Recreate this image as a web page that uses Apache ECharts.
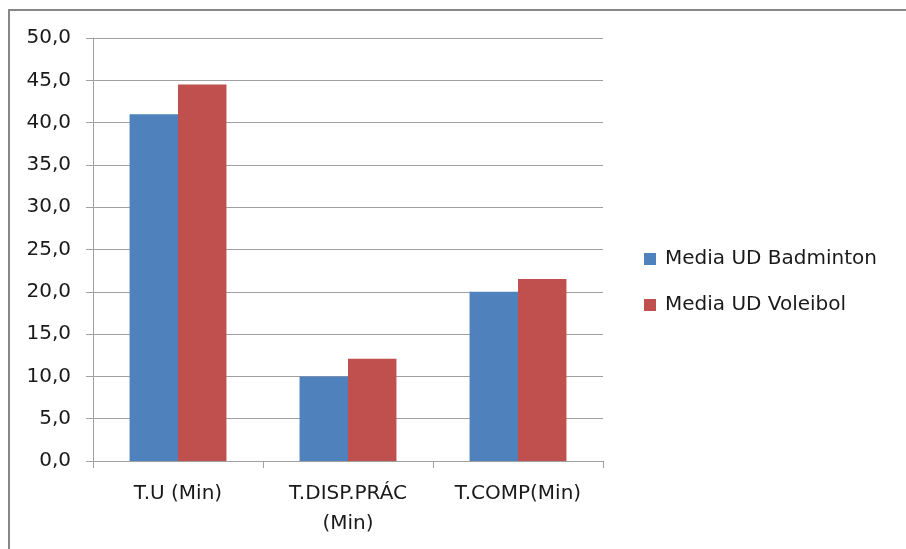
<!DOCTYPE html>
<html>
<head>
<meta charset="utf-8">
<script src="https://cdn.jsdelivr.net/npm/echarts@6/dist/echarts.min.js"></script>
<style>
html,body{margin:0;padding:0;background:#fff;}
#chart{width:906px;height:549px;}
</style>
</head>
<body>
<div id="chart"></div>
<script>
var categories = ['T.U (Min)', 'T.DISP.PRÁC\n(Min)', 'T.COMP(Min)'];
var seriesNames = ['Media UD Badminton', 'Media UD Voleibol'];
var badminton = [41.0, 10.0, 20.0];
var voleibol = [44.5, 12.1, 21.5];
var yMin = 0, yMax = 50, yStep = 5;

var FONT = '"DejaVu Sans", sans-serif';
var chart = echarts.init(document.getElementById('chart'), null, {renderer: 'canvas'});
chart.setOption({
  animation: false,
  backgroundColor: '#ffffff',
  graphic: [{
    type: 'rect',
    shape: {x: 9, y: 10, width: 1000, height: 700},
    style: {fill: 'none', stroke: '#878787', lineWidth: 2},
    silent: true, z: -1
  }],
  grid: {left: 93, right: 303, top: 38, bottom: 88, containLabel: false},
  legend: {
    orient: 'vertical',
    left: 644, top: 249, padding: 0,
    itemWidth: 12, itemHeight: 12, itemGap: 26,
    icon: 'rect',
    textStyle: {fontFamily: FONT, fontSize: 20, color: '#1a1a1a', lineHeight: 20, padding: [0,0,0,4]},
    data: seriesNames
  },
  xAxis: {
    type: 'category',
    data: categories,
    axisLine: {lineStyle: {color: '#a0a0a0', width: 1}},
    axisTick: {show: true, length: 7, alignWithLabel: false, lineStyle: {color: '#a0a0a0'}},
    axisLabel: {fontFamily: FONT, fontSize: 20, color: '#1a1a1a', margin: 18, lineHeight: 30, interval: 0}
  },
  yAxis: {
    type: 'value',
    min: yMin, max: yMax, interval: yStep,
    axisLine: {show: true, lineStyle: {color: '#a0a0a0', width: 1}},
    axisTick: {show: true, length: 7, lineStyle: {color: '#a0a0a0'}},
    splitLine: {show: true, lineStyle: {color: '#a0a0a0', width: 1}},
    axisLabel: {
      fontFamily: FONT, fontSize: 20, color: '#1a1a1a', margin: 22,
      formatter: function (v) { return v.toFixed(1).replace('.', ','); }
    }
  },
  series: [
    {name: seriesNames[0], type: 'bar', data: badminton, barGap: '0%', barCategoryGap: '43%',
     itemStyle: {color: '#4F81BD'}},
    {name: seriesNames[1], type: 'bar', data: voleibol, barGap: '0%', barCategoryGap: '43%',
     itemStyle: {color: '#C0504D'}}
  ]
});
</script>
</body>
</html>
